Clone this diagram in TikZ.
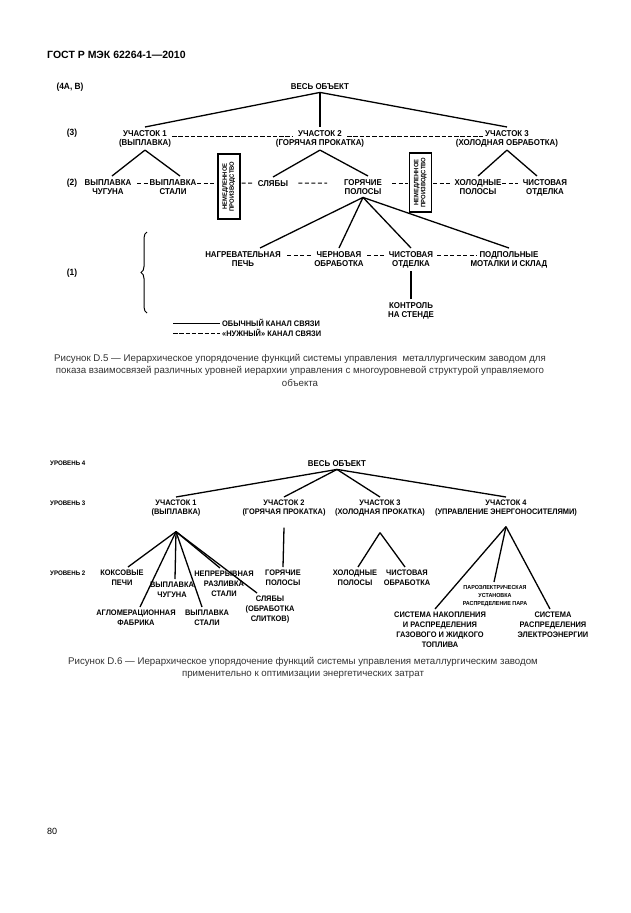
\documentclass[tikz,border=0pt]{standalone}
\usepackage{fontspec}
\usepackage{graphicx}
\setmainfont{Liberation Sans}
\newfontfamily\dg[FakeStretch=0.93]{Liberation Sans}
\usetikzlibrary{calc,decorations.pathreplacing}
\begin{document}
\begin{tikzpicture}[x=1pt,y=-1pt,
  lb/.style={font=\dg\bfseries\fontsize{8.5}{9}\selectfont, align=center, inner sep=3pt, anchor=north},
  lv/.style={font=\dg\bfseries\fontsize{8}{9}\selectfont, align=center, inner sep=3pt, anchor=north},
  lk/.style={font=\dg\bfseries\fontsize{8}{10}\selectfont, align=center, inner sep=3pt, anchor=north},
  ls/.style={font=\dg\bfseries\fontsize{5.8}{8}\selectfont, align=center, inner sep=3pt, anchor=north},
  lvl/.style={font=\dg\bfseries\fontsize{9}{9}\selectfont, inner sep=0pt},
  sm/.style={font=\dg\bfseries\fontsize{6.6}{8}\selectfont, inner sep=0pt, anchor=west},
  bx/.style={draw, line width=1.3pt, minimum width=22pt, minimum height=65pt, inner sep=0pt,
     font=\dg\bfseries\fontsize{6.3}{7}\selectfont},
  tr/.style={line width=1.3pt},
  dsh/.style={line width=1pt, dash pattern=on 4pt off 2.5pt},
  udsh/.style={line width=0.8pt, dash pattern=on 4.5pt off 1.8pt},
  capt/.style={font=\fontsize{9.7}{12.5}\selectfont, align=center, inner sep=0pt, text=black!80}]
\fill[white] (0,0) rectangle (630,913);
\useasboundingbox (0,0) rectangle (630,913);

% header
\node[anchor=west, font=\bfseries\fontsize{10.5}{12}\selectfont, inner sep=0pt] (hdr) at (47,55) {ГОСТ Р МЭК 62264-1—2010};

% ---------------- Figure D.5 ----------------
\node[lb] (top) at (320,80) {ВЕСЬ ОБЪЕКТ};
\node[lvl] (l4) at (70,87) {(4А, В)};
\node[lvl] (l3) at (72,133) {(3)};
\node[lvl] (l2) at (72,183) {(2)};
\node[lvl] (l1) at (72,273) {(1)};

\node[lb] (u1) at (145,127) {УЧАСТОК 1\\(ВЫПЛАВКА)};
\node[lb] (u2) at (320,127) {УЧАСТОК 2\\(ГОРЯЧАЯ ПРОКАТКА)};
\node[lb] (u3) at (507,127) {УЧАСТОК 3\\(ХОЛОДНАЯ ОБРАБОТКА)};

\node[lb] (a1) at (108,176) {ВЫПЛАВКА\\ЧУГУНА};
\node[lb] (a2) at (173,176) {ВЫПЛАВКА\\СТАЛИ};
\node[bx] (b1) at (229,186.5) {\rotatebox{90}{\begin{tabular}{@{}c@{}}НЕМЕДЛЕННОЕ\\ПРОИЗВОДСТВО\end{tabular}}};
\node[lb] (s1) at (273,177) {СЛЯБЫ};
\node[lb] (h1) at (363,176) {ГОРЯЧИЕ\\ПОЛОСЫ};
\node[bx, minimum height=59pt] (b2) at (420.5,182.5) {\rotatebox{90}{\begin{tabular}{@{}c@{}}НЕМЕДЛЕННОЕ\\ПРОИЗВОДСТВО\end{tabular}}};
\node[lb] (c1) at (478,176) {ХОЛОДНЫЕ\\ПОЛОСЫ};
\node[lb] (c2) at (545,176) {ЧИСТОВАЯ\\ОТДЕЛКА};

\node[lb] (n1) at (243,248) {НАГРЕВАТЕЛЬНАЯ\\ПЕЧЬ};
\node[lb] (n2) at (339,248) {ЧЕРНОВАЯ\\ОБРАБОТКА};
\node[lb] (n3) at (411,248) {ЧИСТОВАЯ\\ОТДЕЛКА};
\node[lb] (n4) at (509,248) {ПОДПОЛЬНЫЕ\\МОТАЛКИ И СКЛАД};
\node[lb] (kt) at (411,299) {КОНТРОЛЬ\\НА СТЕНДЕ};

\draw[tr] (top.south) -- (u1.north);
\draw[tr] (top.south) -- (u2.north);
\draw[tr] (top.south) -- (u3.north);
\draw[tr] (u1.south) -- ([xshift=4pt]a1.north);
\draw[tr] (u1.south) -- ([xshift=7pt]a2.north);
\draw[tr] (u2.south) -- (s1.north);
\draw[tr] (u2.south) -- ([xshift=5pt]h1.north);
\draw[tr] (u3.south) -- (c1.north);
\draw[tr] (u3.south) -- ([xshift=-8pt]c2.north);
\draw[tr] (h1.south) -- ([xshift=17pt]n1.north);
\draw[tr] (h1.south) -- (n2.north);
\draw[tr] (h1.south) -- (n3.north);
\draw[tr] (h1.south) -- (n4.north);
\draw[tr] (n3.south) -- (kt.north);

\draw[udsh] ($(u1.north)+(27,9)$) -- ($(u2.north)+(-27,9)$);
\draw[udsh] ($(u2.north)+(27,9)$) -- ($(u3.north)+(-24,9)$);

\draw[dsh] ($(a1.north)+(29,7)$) -- ($(a2.north)+(-24,7)$);
\draw[dsh] ($(a2.north)+(24,7)$) -- ($(b1.west)+(-1,-3.5)$);
\draw[dsh] ($(b1.east)+(1,-3.5)$) -- ($(s1.west)+(-2,0)$);
\draw[dsh] ($(s1.east)+(7,0)$) -- ($(h1.north)+(-36,7)$);
\draw[dsh] ($(h1.north)+(29,7)$) -- ($(b2.west)+(-1,0.5)$);
\draw[dsh] ($(b2.east)+(1,0.5)$) -- ($(c1.north)+(-26,7)$);
\draw[dsh] ($(c1.north)+(24,7)$) -- ($(c2.north)+(-27,7)$);
\draw[dsh] ($(n1.north)+(44,7)$) -- ($(n2.north)+(-27,7)$);
\draw[dsh] ($(n2.north)+(28,7)$) -- ($(n3.north)+(-26,7)$);
\draw[dsh] ($(n3.north)+(26,7)$) -- ($(n4.north)+(-32,7)$);

\draw[line width=1pt, decorate, decoration={brace, amplitude=6pt}] (147,313) -- (147,232);

\node[lb, anchor=west, inner sep=0pt, font=\dg\bfseries\fontsize{8}{9}\selectfont] (g1) at (222,323) {ОБЫЧНЫЙ КАНАЛ СВЯЗИ};
\node[lb, anchor=west, inner sep=0pt, font=\dg\bfseries\fontsize{8}{9}\selectfont] (g2) at (222,333) {«НУЖНЫЙ» КАНАЛ СВЯЗИ};
\draw[line width=0.8pt] ([xshift=-49pt]g1.west) -- ([xshift=-2pt]g1.west);
\draw[udsh] ([xshift=-49pt]g2.west) -- ([xshift=-2pt]g2.west);

\node[capt] (cap1) at (300,370) {Рисунок D.5 — Иерархическое упорядочение функций системы управления \ металлургическим заводом для\\показа взаимосвязей различных уровней иерархии управления с многоуровневой структурой управляемого\\объекта};

% ---------------- Figure D.6 ----------------
\node[lb] (top2) at (337,457) {ВЕСЬ ОБЪЕКТ};
\node[sm] (L4) at (50,463) {УРОВЕНЬ 4};
\node[sm] (L3) at (50,503) {УРОВЕНЬ 3};
\node[sm] (L2) at (50,573) {УРОВЕНЬ 2};

\node[lv] (v1) at (176,497) {УЧАСТОК 1\\(ВЫПЛАВКА)};
\node[lv] (v2) at (284,497) {УЧАСТОК 2\\(ГОРЯЧАЯ ПРОКАТКА)};
\node[lv] (v3) at (380,497) {УЧАСТОК 3\\(ХОЛОДНАЯ ПРОКАТКА)};
\node[lv] (v4) at (506,497) {УЧАСТОК 4\\(УПРАВЛЕНИЕ ЭНЕРГОНОСИТЕЛЯМИ)};
\coordinate (v1a) at ([yshift=-12pt]v1.south);
\coordinate (v2a) at ([yshift=-8pt]v2.south);
\coordinate (v3a) at ([yshift=-13pt]v3.south);
\coordinate (v4a) at ([yshift=-7pt]v4.south);

\node[lk] (k1) at (122,567) {КОКСОВЫЕ\\ПЕЧИ};
\node[lk] (k2) at (136,607) {АГЛОМЕРАЦИОННАЯ\\ФАБРИКА};
\node[lk] (k3) at (172,579) {ВЫПЛАВКА\\ЧУГУНА};
\node[lk] (k4) at (207,607) {ВЫПЛАВКА\\СТАЛИ};
\node[lk] (k5) at (224,568) {НЕПРЕРЫВНАЯ\\РАЗЛИВКА\\СТАЛИ};
\node[lk] (k6) at (270,593) {СЛЯБЫ\\(ОБРАБОТКА\\СЛИТКОВ)};
\node[lk] (gp) at (283,567) {ГОРЯЧИЕ\\ПОЛОСЫ};
\node[lk] (x1) at (355,567) {ХОЛОДНЫЕ\\ПОЛОСЫ};
\node[lk] (x2) at (407,567) {ЧИСТОВАЯ\\ОБРАБОТКА};
\node[lk] (p1) at (440,609) {СИСТЕМА НАКОПЛЕНИЯ\\И РАСПРЕДЕЛЕНИЯ\\ГАЗОВОГО И ЖИДКОГО\\ТОПЛИВА};
\node[ls] (p2) at (495,582) {ПАРОЭЛЕКТРИЧЕСКАЯ\\УСТАНОВКА\\РАСПРЕДЕЛЕНИЕ ПАРА};
\node[lk] (p3) at (553,609) {СИСТЕМА\\РАСПРЕДЕЛЕНИЯ\\ЭЛЕКТРОЭНЕРГИИ};

\draw[tr] (top2.south) -- (v1.north);
\draw[tr] (top2.south) -- (v2.north);
\draw[tr] (top2.south) -- (v3.north);
\draw[tr] (top2.south) -- (v4.north);
\draw[tr] (v1a) -- ([xshift=6pt]k1.north);
\draw[tr] (v1a) -- ([xshift=4pt]k2.north);
\draw[tr] (v1a) -- ([xshift=3pt]k3.north);
\draw[tr] (v1a) -- ([xshift=-5pt]k4.north);
\draw[tr] (v1a) -- ([xshift=-4pt]k5.north);
\draw[tr] (v1a) -- ([xshift=-13pt]k6.north);
\draw[tr] (v2a) -- (gp.north);
\draw[tr] (v3a) -- ([xshift=3pt]x1.north);
\draw[tr] (v3a) -- ([xshift=-2pt]x2.north);
\draw[tr] (v4a) -- ([xshift=-5pt]p1.north);
\draw[tr] (v4a) -- ([xshift=-1pt]p2.north);
\draw[tr] (v4a) -- ([xshift=-3pt]p3.north);

\node[capt] (cap2) at (303,668) {Рисунок D.6 — Иерархическое упорядочение функций системы управления металлургическим заводом\\применительно к оптимизации энергетических затрат};

\node[anchor=west, font=\fontsize{9}{10}\selectfont, inner sep=0pt] (pg) at (47,831) {80};
\end{tikzpicture}
\end{document}
